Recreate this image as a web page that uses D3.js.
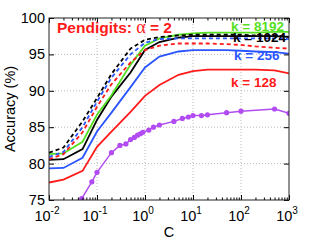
<!DOCTYPE html>
<html><head><meta charset="utf-8">
<script src="https://cdn.jsdelivr.net/npm/d3@7"></script>
<style>body{margin:0;background:#fff}svg{display:block}text{font-family:"Liberation Sans",Arial,Helvetica,sans-serif}</style>
</head><body><svg id="c" width="319" height="240"></svg>
<script>
const C = [0.01,0.02,0.05,0.1,0.2,0.5,1,2,5,10,20,50,100,200,500,1000];
const k128  = [77.4,77.8,79.0,82.3,84.4,87.1,89.3,90.8,92.2,92.7,92.9,92.9,92.9,92.9,92.8,92.4];
const k256  = [79.35,79.4,80.8,84.4,87.0,90.5,93.2,94.7,95.4,95.6,95.6,95.6,95.5,95.4,95.3,95.1];
const k1024 = [80.5,80.6,82.0,86.0,89.2,92.5,95.6,96.7,97.3,97.5,97.5,97.5,97.5,97.5,97.5,97.4];
const k8192 = [81.3,81.4,83.0,86.7,89.4,93.6,96.2,97.2,97.7,97.9,98.0,98.0,98.0,98.0,98.1,98.1];
const d128  = [80.6,81.3,84.3,87.8,90.9,93.9,95.6,96.2,96.5,96.5,96.5,96.4,96.3,96.1,95.9,95.8];
const d256  = [80.9,81.6,85.0,88.5,91.8,95.0,96.6,97.1,97.2,97.2,97.2,97.2,97.2,97.2,97.2,97.1];
const d1024 = [81.5,82.2,85.8,89.0,92.3,95.8,97.0,97.4,97.6,97.7,97.7,97.7,97.7,97.6,97.6,97.4];
const purpleC = [0.048,0.078,0.1,0.2,0.3,0.4,0.5,0.6,0.7,0.8,0.9,1.2,1.5,2,4,6,8,10,15,20,50,100,500,1000];
const purpleV = [75.2,77.5,78.8,81.5,82.5,82.7,83.3,83.6,83.9,84.1,84.3,84.6,85.0,85.3,85.8,86.2,86.4,86.6,86.6,86.7,87.0,87.2,87.5,86.9];
const yTicks = [75,80,85,90,95,100];
const xTicks = [0.01,0.1,1,10,100,1000];
const xExps = ["-2","-1","0","1","2","3"];

const svg = d3.select("#c");
const L=49,R=289,T=18,B=200;
const x = d3.scaleLog().domain([0.01,1000]).range([L,R]);
const y = d3.scaleLinear().domain([75,100]).range([B,T]);

const g = svg.append("g");
g.selectAll(".gx").data(xTicks.slice(1,-1)).enter().append("line")
 .attr("x1",d=>x(d)).attr("x2",d=>x(d)).attr("y1",T).attr("y2",B)
 .attr("stroke","#bbb").attr("stroke-width",1).attr("stroke-dasharray","1,2");
g.selectAll(".gy").data(yTicks.slice(1,-1)).enter().append("line")
 .attr("y1",d=>y(d)).attr("y2",d=>y(d)).attr("x1",L).attr("x2",R)
 .attr("stroke","#bbb").attr("stroke-width",1).attr("stroke-dasharray","1,2");

const line = d3.line().x(d=>x(d[0])).y(d=>y(d[1]));
svg.append("clipPath").attr("id","cp").append("rect").attr("x",L).attr("y",T).attr("width",R-L).attr("height",B-T);
const plot = svg.append("g").attr("clip-path","url(#cp)");

function draw(vals,color,dash){
  plot.append("path").datum(C.map((c,i)=>[c,vals[i]])).attr("d",line)
   .attr("fill","none").attr("stroke",color).attr("stroke-width",1.8)
   .attr("stroke-dasharray",dash?"4,3":null);
}
const purple="#b24cf2";
plot.append("path").datum(purpleC.map((c,i)=>[c,purpleV[i]])).attr("d",line)
 .attr("fill","none").attr("stroke",purple).attr("stroke-width",1.5);
plot.selectAll(".pm").data(purpleC.map((c,i)=>[c,purpleV[i]])).enter().append("circle")
 .attr("cx",d=>x(d[0])).attr("cy",d=>y(d[1])).attr("r",2.6).attr("fill",purple);
draw(k128,"#ff1a1a",false);
draw(k256,"#2a55ff",false);
draw(k1024,"#000",false);
draw(k8192,"#55e020",false);
draw(d128,"#ff1a1a",true);
draw(d256,"#2a55ff",true);
draw(d1024,"#000",true);

const minor=[];
for(let e=-2;e<3;e++) for(let m=2;m<10;m++) minor.push(m*Math.pow(10,e));
function xaxis(yy,dir){
  const a = (dir>0?d3.axisTop(x):d3.axisBottom(x)).tickValues(xTicks).tickSize(-5).tickFormat("");
  const gg = svg.append("g").attr("transform",`translate(0,${yy})`).call(a);
  gg.select(".domain").remove();
  const a2 = (dir>0?d3.axisTop(x):d3.axisBottom(x)).tickValues(minor).tickSize(-2.5).tickFormat("");
  const g2 = svg.append("g").attr("transform",`translate(0,${yy})`).call(a2);
  g2.select(".domain").remove();
}
xaxis(B,-1); xaxis(T,1);
function yaxis(xx,left){
  const a = (left?d3.axisLeft(y):d3.axisRight(y)).tickValues(yTicks).tickSize(-5).tickFormat("");
  const gg = svg.append("g").attr("transform",`translate(${xx},0)`).call(a);
  gg.select(".domain").remove();
}
yaxis(L,true); yaxis(R,false);
svg.append("rect").attr("x",L).attr("y",T).attr("width",R-L).attr("height",B-T)
 .attr("fill","none").attr("stroke","#222").attr("stroke-width",1);

svg.selectAll(".yl").data(yTicks).enter().append("text")
 .attr("x",L-4).attr("y",d=>y(d)+5).attr("text-anchor","end")
 .attr("font-size",14.5).attr("fill","#000").text(d=>d);
const xl = svg.selectAll(".xl").data(xTicks).enter().append("text")
 .attr("x",(d,i)=>x(d)-2).attr("y",221).attr("text-anchor","middle")
 .attr("font-size",14.5).attr("fill","#000");
xl.append("tspan").text("10");
xl.append("tspan").attr("dy",-7).attr("font-size",10).text((d,i)=>xExps[i]);

svg.append("text").attr("x",(L+R)/2).attr("y",237).attr("text-anchor","middle")
 .attr("font-size",14.5).text("C");
svg.append("text").attr("transform",`translate(15,${(T+B)/2}) rotate(-90)`)
 .attr("text-anchor","middle").attr("font-size",14.5).text("Accuracy (%)");

const t = svg.append("text").attr("x",57).attr("y",33).attr("fill","#ff1a1a")
 .attr("font-size",15.5).attr("font-weight","bold");
t.append("tspan").text("Pendigits: ");
t.append("tspan").attr("font-family","'Liberation Serif','DejaVu Serif',serif").attr("font-weight","normal").attr("font-size",18).text("α");
t.append("tspan").text(" = 2");
const labels=[["k = 8192",231,31,"#55e020"],["k = 1024",233,42,"#000"],["k = 256",234,60,"#2a55ff"],["k = 128",231,87,"#ff1a1a"]];
svg.selectAll(".kl").data(labels).enter().append("text")
 .attr("x",d=>d[1]).attr("y",d=>d[2])
 .attr("fill",d=>d[3]).attr("font-size",13.5).attr("font-weight","bold").text(d=>d[0]);
</script></body></html>
